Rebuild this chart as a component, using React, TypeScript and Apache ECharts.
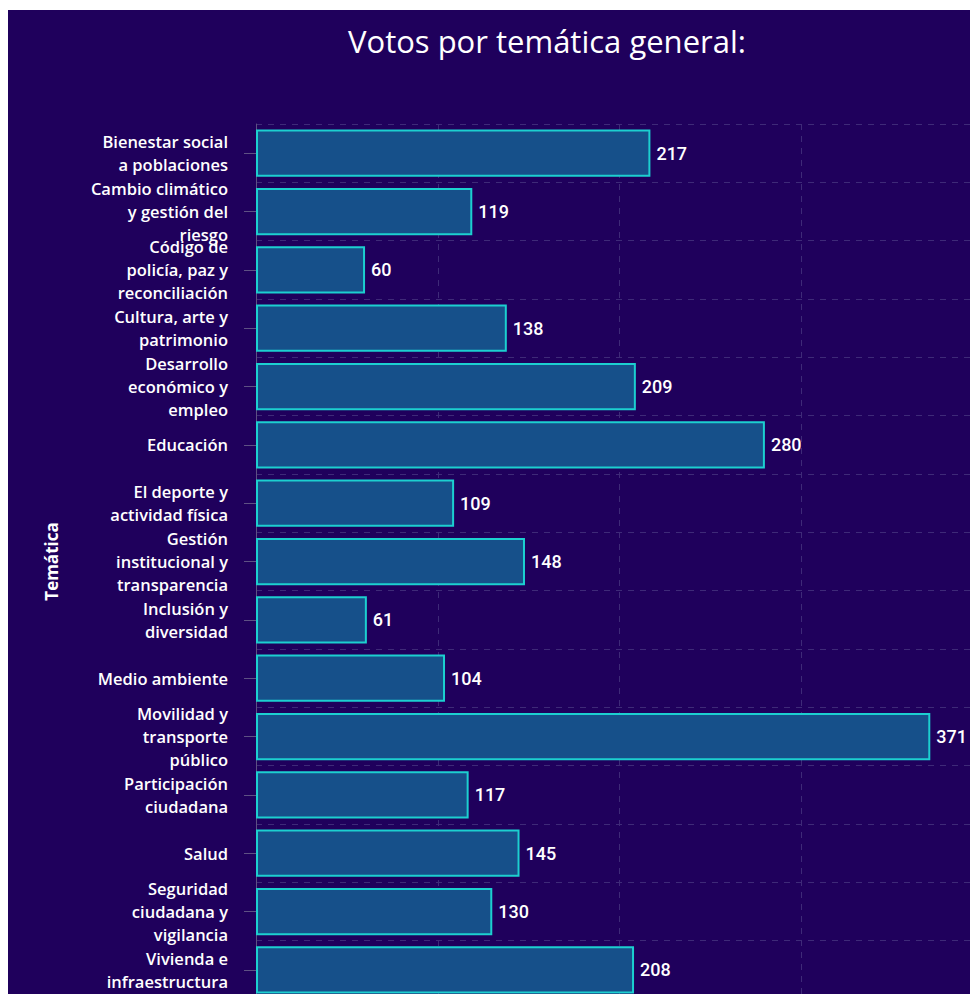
import React, { useEffect, useRef } from "react";
import * as echarts from "echarts";

const categories = [
  "Bienestar social\na poblaciones",
  "Cambio climático\ny gestión del\nriesgo",
  "Código de\npolicía, paz y\nreconciliación",
  "Cultura, arte y\npatrimonio",
  "Desarrollo\neconómico y\nempleo",
  "Educación",
  "El deporte y\nactividad física",
  "Gestión\ninstitucional y\ntransparencia",
  "Inclusión y\ndiversidad",
  "Medio ambiente",
  "Movilidad y\ntransporte\npúblico",
  "Participación\nciudadana",
  "Salud",
  "Seguridad\nciudadana y\nvigilancia",
  "Vivienda e\ninfraestructura",
];

const votes = [217, 119, 60, 138, 209, 280, 109, 148, 61, 104, 371, 117, 145, 130, 208];

const xTicks = [0, 100, 200, 300, 400];

export default function App() {
  const ref = useRef<HTMLDivElement>(null);
  useEffect(() => {
    if (!ref.current) return;
    const prevOverflow = document.body.style.overflow;
    const prevMargin = document.body.style.margin;
    document.body.style.overflow = "hidden";
    document.body.style.margin = "10px 0 0 8px";
    const chart = echarts.init(ref.current, undefined, { renderer: "svg" });
    chart.setOption({
      animation: false,
      backgroundColor: "#1f005c",
      title: {
        text: "Votos por temática general:",
        left: 335,
        top: 10,
        textStyle: {
          color: "#ffffff",
          fontFamily: "Open Sans",
          fontWeight: "normal",
          fontSize: 31,
        },
      },
      grid: { left: 248, top: 114, width: 727, height: 875, outerBoundsMode: "none", containLabel: false },
      xAxis: {
        type: "value",
        min: xTicks[0],
        max: xTicks[xTicks.length - 1],
        interval: 100,
        axisLine: { show: false },
        axisTick: { show: false },
        axisLabel: { color: "#ffffff" },
        splitLine: { show: true, lineStyle: { color: "#3e2a78", type: [6, 6], width: 1 } },
      },
      yAxis: {
        type: "category",
        inverse: true,
        data: categories,
        name: "Temática",
        nameLocation: "middle",
        nameGap: 196,
        nameTextStyle: { color: "#ffffff", fontFamily: "Open Sans", fontWeight: "bold", fontSize: 17 },
        axisLine: { show: true, lineStyle: { color: "#5e5184", width: 1 } },
        axisTick: { show: true, alignWithLabel: true, length: 12, lineStyle: { color: "#5e5184" } },
        axisLabel: {
          color: "#ffffff",
          fontFamily: "Open Sans",
          fontWeight: 600,
          fontSize: 16.5,
          lineHeight: 23,
          margin: 28,
          align: "right",
          interval: 0,
        },
        splitLine: { show: true, lineStyle: { color: "#3e2a78", type: [6, 6], width: 1 } },
      },
      series: [
        {
          type: "bar",
          data: votes,
          barCategoryGap: "19%",
          itemStyle: { color: "#16508a", borderColor: "#1ccfd0", borderWidth: 2 },
          label: {
            show: true,
            position: "right",
            distance: 6,
            color: "#ffffff",
            fontFamily: "Roboto",
            fontWeight: 500,
            fontSize: 18,
          },
        },
      ],
    });
    return () => {
      chart.dispose();
      document.body.style.overflow = prevOverflow;
      document.body.style.margin = prevMargin;
    };
  }, []);
  return <div ref={ref} style={{ width: 962, height: 1040 }} />;
}
